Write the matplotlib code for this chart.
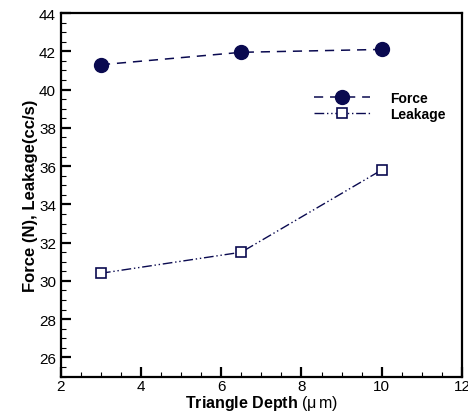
import matplotlib.pyplot as plt
from matplotlib.ticker import MultipleLocator

plt.rcParams['font.family'] = ['Liberation Sans', 'DejaVu Sans']
plt.rcParams['mathtext.fontset'] = 'custom'
plt.rcParams['mathtext.rm'] = 'Liberation Sans'
plt.rcParams['mathtext.it'] = 'Liberation Sans'

depth = [3, 6.5, 10]
force = [41.3, 41.95, 42.1]
leakage = [30.4, 31.5, 35.8]

navy = '#0a0a50'

fig = plt.figure(figsize=(4.68, 4.14), dpi=100)
ax = fig.add_axes([0.130, 0.088, 0.857, 0.878])

ax.plot(depth, force, color=navy, linestyle=(0, (6, 4.5)), linewidth=1.1,
        marker='o', markersize=10, markerfacecolor=navy, markeredgecolor=navy,
        label='Force')
ax.plot(depth, leakage, color=navy, linestyle=(0, (7, 2, 1, 2, 1, 2)), linewidth=1.0,
        marker='s', markersize=7, markerfacecolor='white', markeredgecolor=navy,
        markeredgewidth=1.2, label='Leakage')

ax.set_xlim(2, 12)
ax.set_ylim(25, 44)
ax.xaxis.set_major_locator(MultipleLocator(2))
ax.xaxis.set_minor_locator(MultipleLocator(0.5))
ax.yaxis.set_major_locator(MultipleLocator(2))
ax.yaxis.set_minor_locator(MultipleLocator(0.5))
ax.tick_params(which='both', direction='in', top=False, right=False, labelsize=11, colors='black')
ax.tick_params(which='major', length=7, width=1.6)
ax.tick_params(which='minor', length=3.5, width=0.8)
ax.tick_params(axis='x', pad=1.5)
for s in ax.spines.values():
    s.set_linewidth(1.6)

ax.set_xlabel(r'Triangle Depth $(\mathrm{\mu\,m})$', fontsize=11.5, fontweight='bold', labelpad=0)
ax.set_ylabel('Force (N), Leakage(cc/s)', fontsize=12, fontweight='bold', labelpad=1)

ax.legend(loc='upper left', bbox_to_anchor=(0.60, 0.82), frameon=False,
          prop={'weight': 'bold', 'size': 10}, handlelength=4.0,
          handletextpad=1.5, labelspacing=0.15)

fig.savefig('out.png', dpi=100)
